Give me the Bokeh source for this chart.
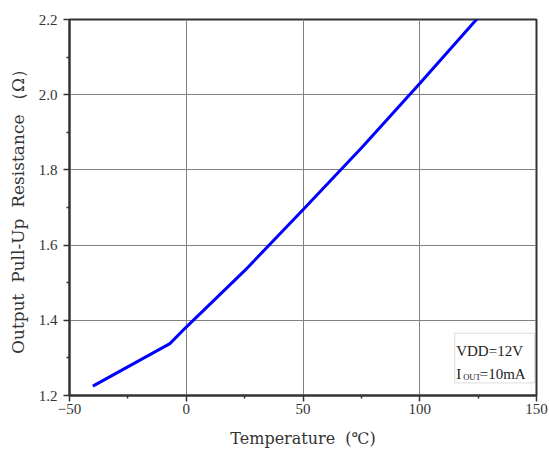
from bokeh.plotting import figure
from bokeh.models import FixedTicker, BoxAnnotation, Label, Range1d
from bokeh.embed import file_html
from bokeh.resources import INLINE

# ---- data ----
temperature = [-40, -7, 0, 25, 50, 75, 100, 125]
resistance = [1.225, 1.338, 1.382, 1.532, 1.694, 1.858, 2.030, 2.205]

x_ticks = [-50, 0, 50, 100, 150]
x_minor_ticks = [-25, 25, 75, 125]
x_tick_labels = ["\u221250", "0", "50", "100", "150"]
y_ticks = [1.2, 1.4, 1.6, 1.8, 2.0, 2.2]
y_minor_ticks = [1.3, 1.5, 1.7, 1.9, 2.1]
y_tick_labels = ["1.2", "1.4", "1.6", "1.8", "2.0", "2.2"]

NB = "\u00a0"
x_title = "Temperature" + NB + NB + "(\u2103)"
y_title = "Output" + NB + NB + "Pull-Up" + NB + NB + "Resistance" + NB + "\uff08\u03a9\uff09"
note_line1 = "VDD=12V"
note_line2 = ["I", "OUT", "=10mA"]

# ---- figure ----
p = figure(width=549, height=450, output_backend="svg", toolbar_location=None,
           x_range=Range1d(-50, 150), y_range=Range1d(1.2, 2.2),
           min_border_left=69, min_border_right=13, min_border_top=19, min_border_bottom=55)
p.background_fill_color = "white"
p.border_fill_color = "white"
p.outline_line_color = "#333333"
p.outline_line_width = 2

p.line(temperature, resistance, line_color="#0000ff", line_width=3)

def key(v):
    return int(v) if float(v).is_integer() else v

AX = "#333333"
TXT = "#333333"
for ax, ticks, minor, labels in ((p.xaxis[0], x_ticks, x_minor_ticks, x_tick_labels),
                                 (p.yaxis[0], y_ticks, y_minor_ticks, y_tick_labels)):
    ax.ticker = FixedTicker(ticks=ticks, minor_ticks=minor)
    ax.major_label_overrides = {key(t): l for t, l in zip(ticks, labels)}
    ax.axis_line_color = AX
    ax.axis_line_width = 2
    ax.major_tick_line_color = AX
    ax.major_tick_line_width = 1.5
    ax.minor_tick_line_color = AX
    ax.minor_tick_line_width = 1.5
    ax.major_tick_in = 0
    ax.major_tick_out = 6
    ax.minor_tick_in = 0
    ax.minor_tick_out = 3
    ax.major_label_text_font = "Liberation Serif"
    ax.major_label_text_font_size = "15px"
    ax.major_label_text_color = TXT
    ax.axis_label_text_font = "DejaVu Serif"
    ax.axis_label_text_font_style = "normal"
    ax.axis_label_text_color = TXT

p.xaxis.axis_label = x_title
p.yaxis.axis_label = y_title
p.xaxis.axis_label_text_font_size = "16px"
p.yaxis.axis_label_text_font_size = "17px"
p.xaxis.major_label_standoff = 2
p.yaxis.major_label_standoff = 6
p.xaxis.axis_label_standoff = 12
p.yaxis.axis_label_standoff = 8

p.xgrid.ticker = FixedTicker(ticks=x_ticks)
p.ygrid.ticker = FixedTicker(ticks=y_ticks)
for g in (p.xgrid[0], p.ygrid[0]):
    g.grid_line_color = "#808080"
    g.grid_line_width = 1
    g.grid_line_alpha = 1

# ---- condition note box ----
box = BoxAnnotation(left=115.0, right=149.2, top=1.3657, bottom=1.2335,
                    fill_color="white", fill_alpha=1,
                    line_color="#909090", line_width=1)
p.add_layout(box)

NOTE_X = 115.6
NOTE_FONT = "Liberation Serif"
p.add_layout(Label(x=NOTE_X, y=1.3178, text=note_line1, text_font=NOTE_FONT,
                   text_font_size="15px", text_color="#222222",
                   text_baseline="alphabetic"))
p.add_layout(Label(x=NOTE_X, y=1.2577, text=note_line2[0], text_font=NOTE_FONT,
                   text_font_size="15px", text_color="#222222",
                   text_baseline="alphabetic"))
p.add_layout(Label(x=NOTE_X, x_offset=7, y=1.2479, text=note_line2[1], text_font=NOTE_FONT,
                   text_font_size="8.5px", text_color="#222222",
                   text_baseline="alphabetic"))
p.add_layout(Label(x=NOTE_X, x_offset=23.5, y=1.2577, text=note_line2[2], text_font=NOTE_FONT,
                   text_font_size="15px", text_color="#222222",
                   text_baseline="alphabetic"))

open("out.html", "w").write(file_html(p, INLINE))
